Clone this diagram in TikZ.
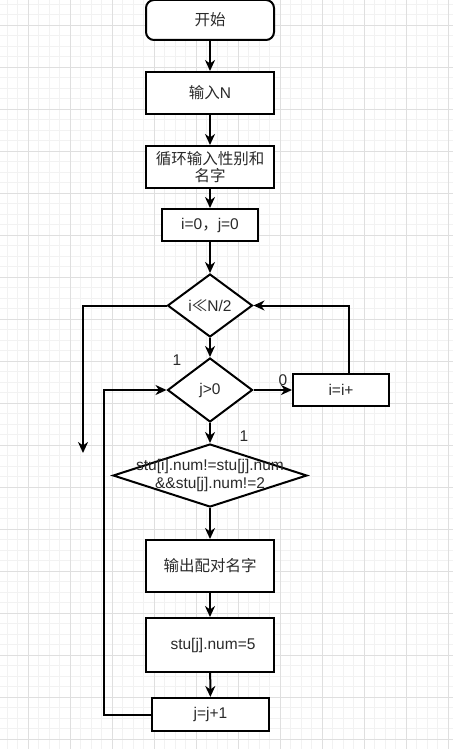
\documentclass[tikz,border=0pt]{standalone}
\usepackage{fontspec}
\setmainfont{Liberation Sans}
\newfontfamily\cjk{Noto Sans CJK SC}
\usetikzlibrary{arrows.meta,shapes.geometric}
\definecolor{minorgrid}{HTML}{F2F2F2}
\definecolor{majorgrid}{HTML}{DFDFDF}
\definecolor{txt}{HTML}{2A2A2A}
\begin{document}
\begin{tikzpicture}[x=1pt,y=-1pt,
  font=\fontsize{15.5}{18.5}\selectfont,
  box/.style={draw=black, line width=2pt, fill=white, inner sep=0pt, text=txt, align=center},
  start/.style={box, rounded corners=8pt},
  dia/.style={diamond, draw=black, line width=2pt, fill=white, inner sep=0pt, text=txt},
  conn/.style={draw=black, line width=2pt},
  arr/.style={conn, -{Stealth[length=11pt, width=10pt, inset=3.5pt]}},
  lbl/.style={text=txt, inner sep=0pt}]
\useasboundingbox (0,0) rectangle (453,749);
\begin{scope}
\clip (0,0) rectangle (453,749);
\fill[white] (0,0) rectangle (453,749);
\foreach \k in {-3,...,43} {\draw[minorgrid, line width=0.8pt] ({28+10.5*\k},0) -- ({28+10.5*\k},749);}
\foreach \k in {-3,...,69} {\draw[minorgrid, line width=0.8pt] (0,{25+10.5*\k}) -- (453,{25+10.5*\k});}
\foreach \k in {0,...,10} {\draw[majorgrid, line width=0.8pt] ({28+42*\k},0) -- ({28+42*\k},749);}
\foreach \k in {0,...,17} {\draw[majorgrid, line width=0.8pt] (0,{25+42*\k}) -- (453,{25+42*\k});}
\end{scope}

\node[start, minimum width=128pt, minimum height=40pt] (s) at (210,20) {\cjk 开始};
\node[box, minimum width=128pt, minimum height=42pt] (inN) at (210,93) {{\cjk 输入}N};
\node[box, minimum width=128pt, minimum height=42pt] (loop) at (210,167) {\cjk 循环输入性别和\\[-1pt]\cjk 名字};
\node[box, minimum width=96pt, minimum height=32pt] (init) at (210,225) {i=0{\cjk ，}j=0};
\node[dia, minimum width=85pt, minimum height=63pt] (d1) at (210,305.5) {i{\cjk ≪}N/2};
\node[dia, minimum width=85pt, minimum height=64pt] (d2) at (210,390) {j>0};
\node[box, minimum width=96pt, minimum height=32pt] (iinc) at (341,390) {i=i+};
\node[dia, minimum width=194pt, minimum height=63pt,
  label={[text=txt, align=center, font=\fontsize{15.5}{18}\selectfont]center:stu[i].num!=stu[j].num\\\&\&stu[j].num!=2}] (d3) at (210,475.5) {};
\node[box, minimum width=128pt, minimum height=52pt] (out) at (210,566) {\cjk 输出配对名字};
\node[box, minimum width=128pt, minimum height=54pt,
  label={[text=txt, xshift=3pt]center:stu[j].num=5}] (set5) at (210,645) {};
\node[box, minimum width=117pt, minimum height=33pt] (jinc) at (210.5,714.5) {j=j+1};

\coordinate (exitend) at (83,453);
\coordinate (upx) at (349,374);
\coordinate (backx) at (104,714.5);

\draw[arr] (s) -- (inN);
\draw[arr] (inN) -- (loop);
\draw[arr] (loop) -- (init);
\draw[arr] (init) -- (d1);
\draw[arr] (d1) -- (d2);
\draw[arr] (d2) -- (iinc);
\draw[arr] (upx) |- (d1.east);
\draw[arr] (d1.west) -| (exitend);
\draw[arr] (d2) -- (d3);
\draw[arr] (d3) -- (out);
\draw[arr] (out) -- (set5);
\draw[arr] (set5) -- (jinc);
\draw[arr] (jinc.west) -- (backx) |- (d2.west);

\node[lbl] (l1) at (177,360) {1};
\node[lbl] (l0) at (283,380) {0};
\node[lbl] (l2) at (244,436) {1};
\end{tikzpicture}
\end{document}
